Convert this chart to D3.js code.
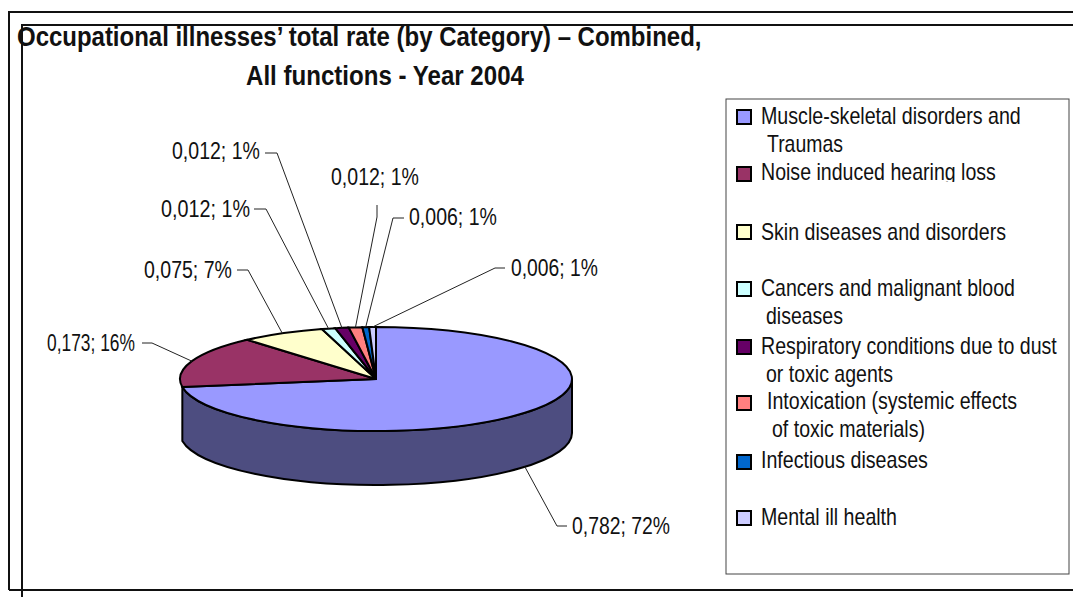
<!DOCTYPE html>
<html>
<head>
<meta charset="utf-8">
<script src="https://cdn.jsdelivr.net/npm/d3@7"></script>
<style>
html, body { margin: 0; padding: 0; background: #fff; overflow: hidden; }
text { font-family: "Liberation Sans", Arial, sans-serif; fill: #111; }
</style>
</head>
<body>
<svg id="chart" width="1073" height="597"></svg>
<script>
"use strict";

const categories = ["Muscle-skeletal disorders and", "Noise induced hearing loss", "Skin diseases and disorders",
    "Cancers and malignant blood", "Respiratory conditions due to dust", "Intoxication (systemic effects",
    "Infectious diseases", "Mental ill health"];
const secondLines = ["Traumas", null, null, "diseases", "or toxic agents", "of toxic materials)", null, null];
const values = [0.782, 0.173, 0.075, 0.012, 0.012, 0.012, 0.006, 0.006];
const valueLabels = ["0,782; 72%", "0,173; 16%", "0,075; 7%", "0,012; 1%", "0,012; 1%", "0,012; 1%", "0,006; 1%", "0,006; 1%"];
const colors = ["#9999ff", "#993366", "#ffffcc", "#ccffff", "#660066", "#ff8080", "#0066cc", "#ccccff"];
const titleLines = ["Occupational illnesses\u2019 total rate (by Category) \u2013 Combined,", "All functions - Year 2004"];

// layout
const cx = 376, cy = 379, rx = 196, ry = 52, depth = 54;
const labelSize = 23, legendSize = 23, titleSize = 28;
// label left x, baseline, width, then the elbow of the leader
const labelPos = [
    {x: 572, y: 534, w: 98, line: [[557, 526], [567, 526]]},
    {x: 47, y: 351, w: 88, line: [[152, 343], [142, 343]]},
    {x: 144, y: 278, w: 88, line: [[248, 270], [237, 270]]},
    {x: 161, y: 217, w: 89, line: [[266, 209], [254, 209]]},
    {x: 172, y: 159, w: 88, line: [[277, 153], [265, 153]]},
    {x: 331, y: 185, w: 88, line: [[377, 217], [377, 205]]},
    {x: 409, y: 225, w: 88, line: [[393, 218], [404, 218]]},
    {x: 511, y: 276, w: 87, line: [[495, 268], [505, 268]]}
];
// swatch centre, first baseline, x of each text line, width of each text line
const legendPos = [
    {sy: 117, by: 124, x: [761, 767], w: [260, 76]},
    {sy: 174, by: 180, x: [761], w: [235]},
    {sy: 232, by: 240, x: [761], w: [245]},
    {sy: 289, by: 296, x: [761, 766], w: [254, 77]},
    {sy: 347, by: 354, x: [761, 766], w: [296, 127]},
    {sy: 403, by: 409, x: [767, 772], w: [250, 153]},
    {sy: 462, by: 468, x: [761], w: [167]},
    {sy: 518, by: 525, x: [761], w: [136]}
];

const svg = d3.select("#chart");

// squeeze a text to the width it has in the picture
function fitText(sel, x, y, w) {
    sel.attr("transform", function(d, i) {
        let sx = w(d, i) / this.getComputedTextLength();
        return `translate(${x(d, i)},${y(d, i)}) scale(${sx},1)`;
    });
}

// the two overlapping frames
const frame = [[[9, 590], [9, 12], [1073, 12]], [[1073, 590], [9, 590]], [[22, 597], [22, 25], [1073, 25]]];
svg.selectAll("path.frame").data(frame).join("path")
    .attr("class", "frame")
    .attr("d", d3.line())
    .attr("fill", "none")
    .attr("stroke", "#111")
    .attr("stroke-width", 2);

// title
svg.selectAll("text.title").data(titleLines).join("text")
    .attr("class", "title")
    .attr("font-size", titleSize)
    .attr("font-weight", "bold")
    .text(d => d)
    .call(fitText, (d, i) => i == 0 ? 17 : 246, (d, i) => i == 0 ? 46 : 85, (d, i) => i == 0 ? 685 : 278);

// pie, flattened into an ellipse
const slices = d3.pie().sort(null).value(d => d)(values);
const arc = d3.arc().innerRadius(0).outerRadius(rx);
function onRim(angle) { return [cx + rx * Math.sin(angle), cy - ry * Math.cos(angle)]; }

// wall only shows on the front part of the first slice
const wallEnd = onRim(slices[0].endAngle);
const wallPath = `M${cx + rx},${cy} A${rx},${ry} 0 0 1 ${wallEnd[0]},${wallEnd[1]}`
    + ` L${wallEnd[0]},${wallEnd[1] + depth} A${rx},${ry} 0 0 0 ${cx + rx},${cy + depth} Z`;
svg.append("path")
    .attr("d", wallPath)
    .attr("fill", "#4d4d80")
    .attr("stroke", "#000")
    .attr("stroke-width", 2);

svg.append("g")
    .attr("transform", `translate(${cx},${cy}) scale(1,${ry / rx})`)
    .selectAll("path").data(slices).join("path")
    .attr("d", arc)
    .attr("fill", (d, i) => colors[i])
    .attr("stroke", "#000")
    .attr("stroke-width", 2)
    .attr("vector-effect", "non-scaling-stroke");

// leaders and data labels
function leaderStart(d, i) {
    let p = onRim((d.startAngle + d.endAngle) / 2);
    return i == 0 ? [p[0], p[1] + depth] : p;
}
svg.selectAll("path.leader").data(slices).join("path")
    .attr("class", "leader")
    .attr("d", (d, i) => d3.line()([leaderStart(d, i), ...labelPos[i].line]))
    .attr("fill", "none")
    .attr("stroke", "#222")
    .attr("stroke-width", 1);

svg.selectAll("text.label").data(valueLabels).join("text")
    .attr("class", "label")
    .attr("font-size", labelSize)
    .text(d => d)
    .call(fitText, (d, i) => labelPos[i].x, (d, i) => labelPos[i].y, (d, i) => labelPos[i].w);

// legend
svg.append("rect")
    .attr("x", 726).attr("y", 99)
    .attr("width", 343).attr("height", 475)
    .attr("fill", "#fff")
    .attr("stroke", "#444")
    .attr("stroke-width", 1);

// the hearing loss row is cut off under its baseline in the original
svg.append("clipPath").attr("id", "noise-clip")
    .append("rect").attr("x", 755).attr("y", 155).attr("width", 300).attr("height", 27);

const legend = svg.selectAll("g.legend").data(categories).join("g").attr("class", "legend");
legend.append("rect")
    .attr("x", 737)
    .attr("y", (d, i) => legendPos[i].sy - 7)
    .attr("width", 14).attr("height", 14)
    .attr("fill", (d, i) => colors[i])
    .attr("stroke", "#000")
    .attr("stroke-width", 2);
legend.append("g")
    .attr("clip-path", (d, i) => i == 1 ? "url(#noise-clip)" : null)
    .append("text")
    .attr("font-size", legendSize)
    .text(d => d)
    .each(function(d) {
        let p = legendPos[categories.indexOf(d)];
        d3.select(this).call(fitText, () => p.x[0], () => p.by, () => p.w[0]);
    });
legend.filter((d, i) => secondLines[i] != null).append("text")
    .attr("font-size", legendSize)
    .text(d => secondLines[categories.indexOf(d)])
    .each(function(d) {
        let p = legendPos[categories.indexOf(d)];
        d3.select(this).call(fitText, () => p.x[1], () => p.by + 28, () => p.w[1]);
    });
</script>
</body>
</html>
